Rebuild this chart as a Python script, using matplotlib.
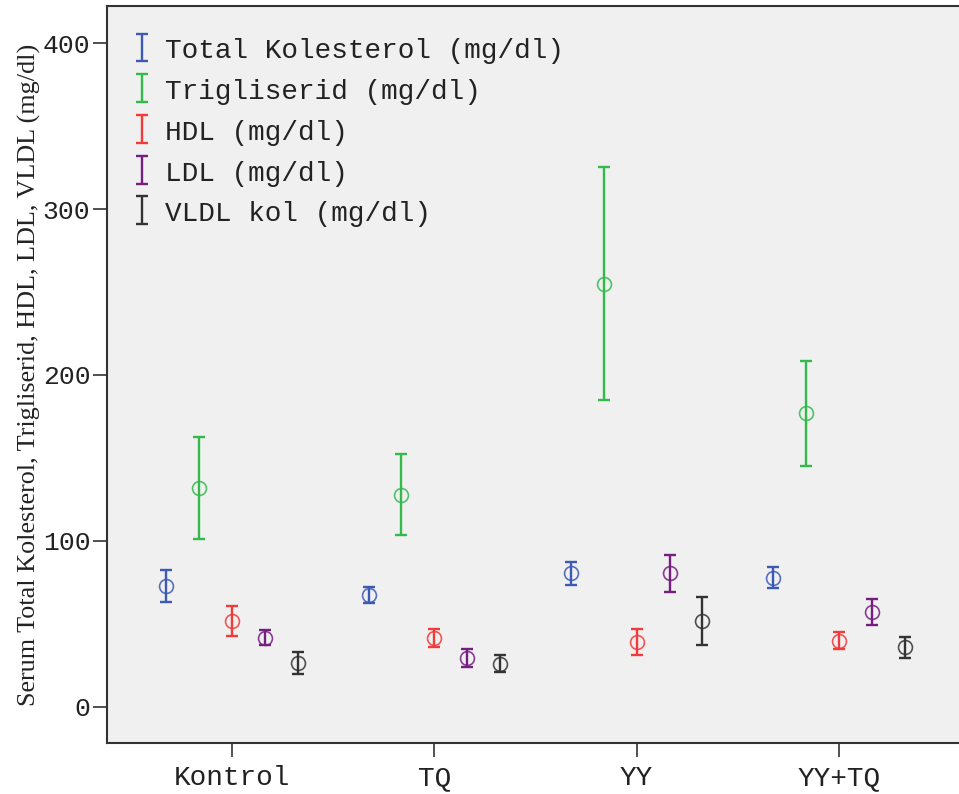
import matplotlib
matplotlib.use("Agg")
import matplotlib.pyplot as plt
import numpy as np

# Group labels and measured parameters (mean and error half-width)
groups = ["Kontrol", "TQ", "YY", "YY+TQ"]
series = ["Total Kolesterol (mg/dl)", "Trigliserid (mg/dl)", "HDL (mg/dl)",
          "LDL (mg/dl)", "VLDL kol (mg/dl)"]

total_kol_mean = [73.0, 67.5, 80.5, 78.0]
total_kol_err = [9.7, 4.6, 6.8, 6.5]
trig_mean = [131.7, 128.0, 255.0, 177.0]
trig_err = [30.7, 24.5, 70.2, 31.6]
hdl_mean = [52.0, 41.4, 39.2, 40.0]
hdl_err = [9.0, 5.5, 7.8, 5.0]
ldl_mean = [41.7, 29.7, 80.5, 57.2]
ldl_err = [4.5, 5.4, 11.1, 7.7]
vldl_mean = [26.7, 26.1, 51.8, 36.0]
vldl_err = [6.6, 5.0, 14.2, 6.4]

means = [total_kol_mean, trig_mean, hdl_mean, ldl_mean, vldl_mean]
errs = [total_kol_err, trig_err, hdl_err, ldl_err, vldl_err]
colors = ["#3C5AB4", "#33BB4A", "#F23A3A", "#741E80", "#333333"]
offsets = [-0.325, -0.163, 0.0, 0.163, 0.325]

fig = plt.figure(figsize=(9.59, 7.94), dpi=100)
fig.patch.set_facecolor("white")
ax = fig.add_axes([107 / 959, 51 / 794, (962 - 107) / 959, (788 - 51) / 794])
ax.set_facecolor("#F0F0F0")

x = np.arange(len(groups))
handles = []
for m, e, c, off, name in zip(means, errs, colors, offsets, series):
    xs = x + off
    h = ax.errorbar(xs, m, yerr=e, fmt="none", ecolor=c, elinewidth=1.7,
                    capsize=4, capthick=1.7, label=name, zorder=3)
    ax.plot(xs, m, linestyle="none", marker="o", markersize=10,
            markerfacecolor="none", markeredgecolor=c, markeredgewidth=1.2,
            alpha=0.85, zorder=4)
    handles.append(h)

ax.set_xlim(-0.6178, 3.608)
ax.set_ylim(-21.7, 422.3)
ax.set_xticks(x)
ax.set_xticklabels(groups)
ax.set_yticks([0, 100, 200, 300, 400])

mono = "Liberation Mono"
for lab in ax.get_xticklabels():
    lab.set_fontfamily(mono)
    lab.set_fontsize(20)
    lab.set_color("#222222")
for lab in ax.get_yticklabels():
    lab.set_fontfamily(mono)
    lab.set_fontsize(19)
    lab.set_color("#222222")

ax.tick_params(axis="y", direction="out", length=10, width=1.2,
               color="#333333", pad=2)
ax.tick_params(axis="x", direction="out", length=10, width=1.2,
               color="#333333", pad=6)

for s in ax.spines.values():
    s.set_color("#333333")
    s.set_linewidth(1.5)

ax.set_ylabel("Serum Total Kolesterol, Trigliserid, HDL, LDL, VLDL (mg/dl)",
              family="Liberation Serif", fontsize=18.8, color="#222222",
              labelpad=1)

leg = ax.legend(handles=handles, loc="upper left", frameon=False,
                prop={"family": mono, "size": 20}, handlelength=0.6,
                handleheight=1.0, handletextpad=0.55, labelspacing=0.46,
                borderaxespad=0.3, bbox_to_anchor=(0.008, 0.985))
for t in leg.get_texts():
    t.set_color("#222222")

fig.savefig("out.png", dpi=100, facecolor="white")
